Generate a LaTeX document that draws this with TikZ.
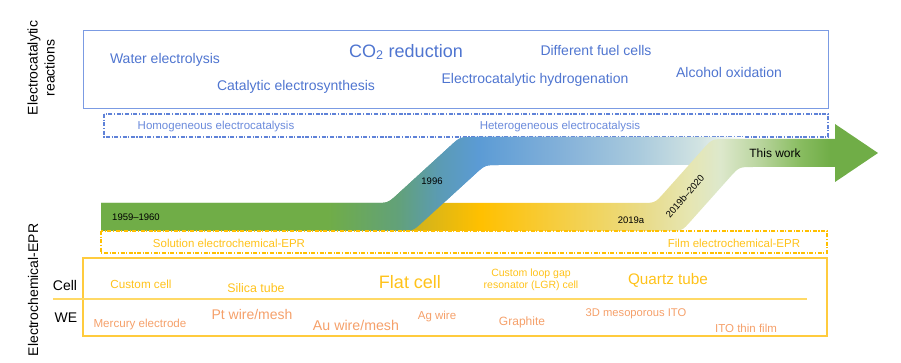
\documentclass[tikz,border=0pt]{standalone}
\usepackage{fontspec}
\setmainfont{Liberation Sans}
\definecolor{txblue}{HTML}{4F75D0}
\definecolor{bxblue}{HTML}{7B9BE3}
\definecolor{smblue}{HTML}{6A8ADB}
\definecolor{dsblue}{HTML}{5F82D8}
\definecolor{txyel}{HTML}{FFC21A}
\definecolor{txora}{HTML}{F5A06A}
\definecolor{bxyel}{HTML}{FFCB3D}
\definecolor{dsyel}{HTML}{FFBF00}
\definecolor{lnyel}{HTML}{FFD966}
\definecolor{gA}{HTML}{70AD47}
\definecolor{gB}{HTML}{62A17A}
\definecolor{gC}{HTML}{5B9BB3}
\definecolor{gD}{HTML}{5B9BD5}
\definecolor{gE}{HTML}{82B0D9}
\definecolor{gF}{HTML}{A9CADD}
\definecolor{gG}{HTML}{D3E4E2}
\definecolor{yA}{HTML}{C8B020}
\definecolor{yB}{HTML}{E2B812}
\definecolor{yC}{HTML}{FFC000}
\definecolor{yD}{HTML}{F8CA32}
\definecolor{yE}{HTML}{F0D562}
\definecolor{yF}{HTML}{E8DC8E}
\definecolor{yG}{HTML}{E6E6B2}
\definecolor{yH}{HTML}{DDE8CC}
\definecolor{yI}{HTML}{B8D49C}
\definecolor{yJ}{HTML}{88BC60}
% blue band: x 101 -> 745 maps to 25bp -> 75bp
\pgfdeclarehorizontalshading{blueband}{100bp}{color(0bp)=(gA); color(25bp)=(gA); color(42.6bp)=(gA); color(48.1bp)=(gB); color(51.2bp)=(gC); color(54.3bp)=(gD); color(60.5bp)=(gE); color(66.7bp)=(gF); color(71.6bp)=(gG); color(75bp)=(white); color(100bp)=(white)}
% yellow band: x 400 -> 878 maps to 25bp -> 75bp
\pgfdeclarehorizontalshading{yelband}{100bp}{color(0bp)=(yA); color(25bp)=(yA); color(29.2bp)=(yB); color(33.4bp)=(yC); color(39.6bp)=(yD); color(45.9bp)=(yE); color(51.1bp)=(yF); color(55.3bp)=(yG); color(58.5bp)=(yH); color(62.7bp)=(yI); color(66.9bp)=(yJ); color(70bp)=(gA); color(75bp)=(gA); color(100bp)=(gA)}
\begin{document}
\begin{tikzpicture}[x=1pt,y=-1pt,
  big/.style={font=\fontsize{14}{16}\selectfont, inner sep=0pt},
  small/.style={font=\fontsize{11.5}{13}\selectfont, inner sep=0pt},
  date/.style={font=\fontsize{9.5}{11}\selectfont, inner sep=0pt, text=black},
  reac/.style={big, text=txblue},
  cellt/.style={text=txyel, inner sep=0pt},
  wet/.style={text=txora, inner sep=0pt},
  dashbox/.style={line width=1.1pt, dash pattern=on 4pt off 1.6pt on 1.1pt off 1.6pt}]
\useasboundingbox (0,0) rectangle (901,363);

% ---- top box
\draw[bxblue, line width=1pt] (83,31) rectangle (828,109);
\node[reac] (we) at (165,60) {Water electrolysis};
\node[reac] (ce) at (296,87) {Catalytic electrosynthesis};
\node[font=\fontsize{18}{20}\selectfont, inner sep=0pt, text=txblue] (co) at (406,52) {CO\textsubscript{2} reduction};
\node[reac] (eh) at (535,80) {Electrocatalytic hydrogenation};
\node[reac] (df) at (596,50) {Different fuel cells};
\node[reac] (ao) at (729,72) {Alcohol oxidation};

\node[big, rotate=90, align=center, font=\fontsize{14}{17}\selectfont] (lab1) at (41,68) {Electrocatalytic\\reactions};
\node[big, rotate=90] (lab2) at (33,290) {Electrochemical-EPR};

% ---- dash-dot blue box
\draw[dsblue, dashbox] (104,114) rectangle (828,137);
\node[small, text=smblue] (hom) at (216,127) {Homogeneous electrocatalysis};
\node[small, text=smblue] (het) at (560,127) {Heterogeneous electrocatalysis};

% ---- bands
\def\bluepath{(101,203) -- (374,203) .. controls (388,203) .. (398.3,193.5) -- (449.7,146.5) .. controls (460,137) .. (474,137) -- (745,137) -- (745,165) -- (499,165) .. controls (485,165) .. (474.7,174.5) -- (423.3,221.5) .. controls (413,231) .. (399,231) -- (101,231) -- cycle}
\def\yelpath{(400,203) -- (641,203) .. controls (655,203) .. (664.3,192.5) -- (702.7,149.5) .. controls (712,139) .. (726,139) -- (835,139) -- (835,124) -- (878,153) -- (835,182) -- (835,167) -- (753,167) .. controls (739,167) .. (729.7,177.5) -- (691.3,220.5) .. controls (682,231) .. (668,231) -- (400,231) -- cycle}
\begin{scope}
  \clip \bluepath;
  \shade[shading=blueband] (101,120) rectangle (745,240);
\end{scope}
\begin{scope}
  \clip \yelpath;
  \shade[shading=yelband] (400,110) rectangle (878,240);
\end{scope}
\begin{scope}
  \clip (90,100) rectangle (600,250);
  \clip \bluepath;
  \shade[shading=blueband] (101,120) rectangle (745,240);
\end{scope}

\node[date] (d1) at (136,217) {1959–1960};
\node[date] (d2) at (432,181) {1996};
\node[date] (d3) at (631,220) {2019a};
\node[date, rotate=49] (d4) at (685,196) {2019b–2020};
\node[font=\fontsize{12}{14}\selectfont, inner sep=0pt] (tw) at (775,153) {This work};

% ---- dash-dot yellow box
\draw[dsyel, dashbox] (101,231) rectangle (827,253);
\node[small, text=txyel] (sol) at (229,243) {Solution electrochemical-EPR};
\node[small, text=txyel] (film) at (734,243) {Film electrochemical-EPR};

% ---- yellow box
\draw[bxyel, line width=1.1pt] (83,258) rectangle (827,336);
\coordinate (sl) at (53,299);
\coordinate (sr) at (807,299);
\draw[lnyel, line width=1.2pt] (sl) -- (sr);
\node[big, font=\fontsize{14}{16}\selectfont] (cell) at (65,285) {Cell};
\node[big, font=\fontsize{14}{16}\selectfont] (wel) at (66,318) {WE};

\node[cellt, font=\fontsize{11.7}{13}\selectfont] (c1) at (141,284) {Custom cell};
\node[cellt, font=\fontsize{12.4}{14}\selectfont] (c2) at (256,288) {Silica tube};
\node[cellt, font=\fontsize{18}{20}\selectfont] (c3) at (410,282) {Flat cell};
\node[cellt, font=\fontsize{10.5}{11.5}\selectfont, align=center] (c4) at (531,280) {Custom loop gap\\resonator (LGR) cell};
\node[cellt, font=\fontsize{15.3}{17}\selectfont] (c5) at (668,280) {Quartz tube};

\node[wet, font=\fontsize{11.6}{13}\selectfont] (w1) at (140,324) {Mercury electrode};
\node[wet, font=\fontsize{14}{16}\selectfont] (w2) at (252,314) {Pt wire/mesh};
\node[wet, font=\fontsize{14.2}{16}\selectfont] (w3) at (356,325) {Au wire/mesh};
\node[wet, font=\fontsize{11.5}{13}\selectfont] (w4) at (437,317) {Ag wire};
\node[wet, font=\fontsize{12}{14}\selectfont] (w5) at (522,322) {Graphite};
\node[wet, font=\fontsize{11.2}{13}\selectfont] (w6) at (636,314) {3D mesoporous ITO};
\node[wet, font=\fontsize{11.5}{13}\selectfont] (w7) at (746,328) {ITO thin film};
\end{tikzpicture}
\end{document}
